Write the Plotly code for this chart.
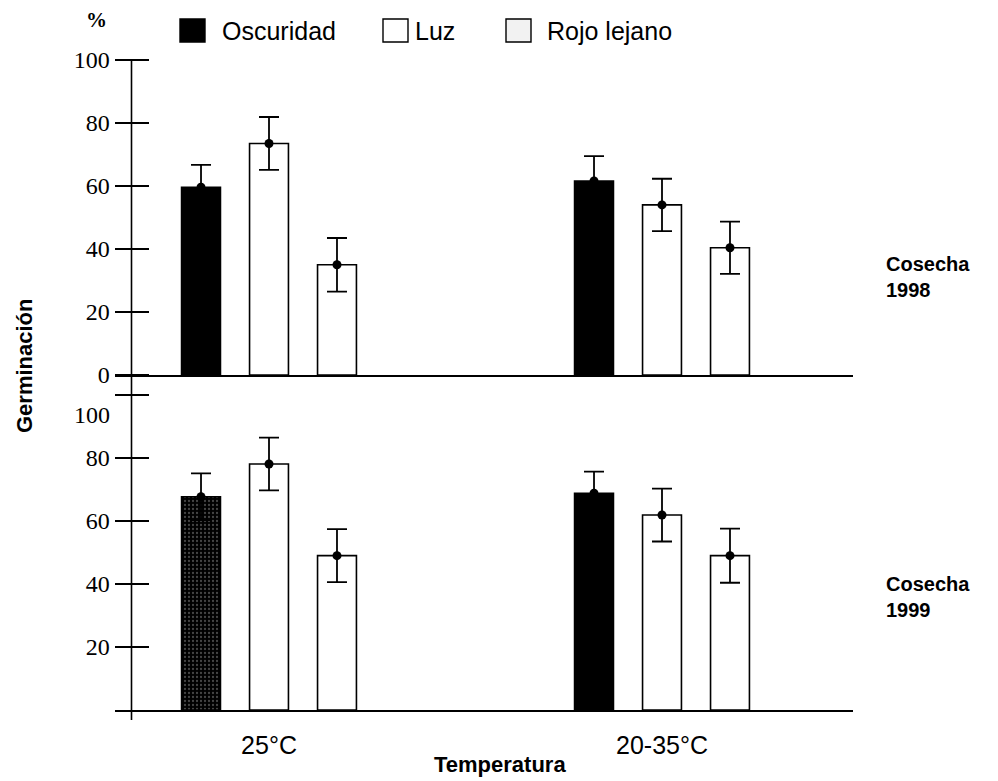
import plotly.graph_objects as go

# ---------------- data ----------------
categories = ["25°C", "20-35°C"]
series_names = ["Oscuridad", "Luz", "Rojo lejano"]

osc_1998 = [59.6, 61.6]
luz_1998 = [73.5, 54.0]
rojo_1998 = [35.0, 40.4]
osc_1998_err = [7.1, 7.9]
luz_1998_err = [8.4, 8.3]
rojo_1998_err = [8.5, 8.3]

osc_1999 = [67.7, 68.8]
luz_1999 = [78.1, 61.9]
rojo_1999 = [49.0, 49.0]
osc_1999_err = [7.4, 6.9]
luz_1999_err = [8.4, 8.4]
rojo_1999_err = [8.4, 8.6]

y_ticks_top = [0, 20, 40, 60, 80, 100]
y_ticks_bottom = [20, 40, 60, 80, 100]
y_ticktext_bottom = ["20", "40", "60", "80", ""]

# ---------------- layout helpers ----------------
W, H = 998, 781
def px(x):
    return x / W
def py(y):
    return 1 - y / H

slot = 0.173      # distance between bar centres (category units)
bar_w = 0.099     # bar width (category units)
offsets = [-slot, 0.0, slot]

fills = ["#000000", "#ffffff", "#ffffff"]

fig = go.Figure()

panels = [
    ("x", "y", [osc_1998, luz_1998, rojo_1998], [osc_1998_err, luz_1998_err, rojo_1998_err]),
    ("x2", "y2", [osc_1999, luz_1999, rojo_1999], [osc_1999_err, luz_1999_err, rojo_1999_err]),
]

for pi, (xa, ya, vals, errs) in enumerate(panels):
    for si, name in enumerate(series_names):
        xs = [ci + offsets[si] for ci in range(len(categories))]
        marker = dict(color=fills[si], line=dict(color="black", width=1.6))
        if si == 0 and pi == 1:
            marker["pattern"] = dict(shape=[".", ""], fgcolor="#8a8a8a", bgcolor="#000000",
                                     size=4, solidity=0.25)
        fig.add_trace(go.Bar(
            x=xs, y=vals[si], width=bar_w, name=name, marker=marker,
            xaxis=xa, yaxis=ya, showlegend=False, hoverinfo="skip"))
        fig.add_trace(go.Scatter(
            x=xs, y=vals[si], mode="markers",
            marker=dict(color="black", size=9),
            error_y=dict(type="data", array=errs[si], visible=True,
                         color="black", thickness=1.8, width=10),
            xaxis=xa, yaxis=ya, showlegend=False, hoverinfo="skip"))

x_dom = [px(115), px(853)]
x_rng = [(115 - 269) / 393, (853 - 269) / 393]

tick_font = dict(family="Liberation Serif", size=24, color="black")

fig.update_layout(
    width=W, height=H,
    margin=dict(l=0, r=0, t=0, b=0, autoexpand=False),
    paper_bgcolor="white", plot_bgcolor="rgba(0,0,0,0)",
    barmode="overlay",
    xaxis=dict(domain=x_dom, range=x_rng, anchor="y", showline=True, linecolor="black",
               linewidth=1.6, showticklabels=False, ticks="", showgrid=False, zeroline=False,
               automargin=False),
    xaxis2=dict(domain=x_dom, range=x_rng, anchor="y2", showline=True, linecolor="black",
                linewidth=1.6, tickvals=list(range(len(categories))), ticktext=categories,
                ticks="", showgrid=False, zeroline=False, ticklabelstandoff=12, automargin=False,
                tickfont=dict(family="Liberation Sans", size=25, color="black")),
    yaxis=dict(domain=[py(375), py(60)], range=[0, 100], anchor="free", position=px(148.5),
               tickvals=y_ticks_top, ticks="outside", ticklen=34, tickwidth=1.6, tickcolor="black",
               showline=False, showgrid=False, zeroline=False, tickfont=tick_font, automargin=False),
    yaxis2=dict(domain=[py(710), py(395)], range=[0, 100], anchor="free", position=px(148.5),
                tickvals=y_ticks_bottom, ticktext=y_ticktext_bottom, ticks="outside", ticklen=34,
                tickwidth=1.6, tickcolor="black", showline=False, showgrid=False, zeroline=False,
                tickfont=tick_font, automargin=False),
)

# label of the bottom panel's 100 tick sits slightly below the tick in the original
fig.add_annotation(x=px(112), y=py(415), xref="paper", yref="paper", text="100",
                   showarrow=False, xanchor="right", yanchor="middle", font=tick_font)

# continuous vertical axis line through both panels
fig.add_shape(type="line", xref="paper", yref="paper",
              x0=px(131.5), x1=px(131.5), y0=py(60), y1=py(720),
              line=dict(color="black", width=1.6))

# legend (manual)
legend_items = [
    (180, 205, "#000000", 220, "Oscuridad"),
    (383, 408, "#ffffff", 413, "Luz"),
    (506, 531, "#f2f2f2", 545, "Rojo lejano"),
]
for x0, x1, col, tx, label in legend_items:
    fig.add_shape(type="rect", xref="paper", yref="paper",
                  x0=px(x0), x1=px(x1), y0=py(42), y1=py(19),
                  fillcolor=col, line=dict(color="black", width=1.4))
    fig.add_annotation(x=px(tx), y=py(31), xref="paper", yref="paper",
                       text=label, showarrow=False, xanchor="left", yanchor="middle",
                       font=dict(family="Liberation Sans", size=25, color="black"))

fig.add_annotation(x=px(96), y=py(20), xref="paper", yref="paper", text="<b>%</b>",
                   showarrow=False, xanchor="center", yanchor="middle",
                   font=dict(family="Liberation Serif", size=21, color="black"))

for yc, yr in [(277, "1998"), (597, "1999")]:
    fig.add_annotation(x=px(884), y=py(yc), xref="paper", yref="paper",
                       text=f"<b>Cosecha<br>{yr}</b>", showarrow=False,
                       xanchor="left", yanchor="middle", align="left",
                       font=dict(family="Liberation Sans", size=20, color="black"))

fig.add_annotation(x=px(500), y=py(764), xref="paper", yref="paper", text="<b>Temperatura</b>",
                   showarrow=False, xanchor="center", yanchor="middle",
                   font=dict(family="Liberation Sans", size=22, color="black"))

fig.add_annotation(x=px(24), y=py(366), xref="paper", yref="paper", text="<b>Germinación</b>",
                   showarrow=False, xanchor="center", yanchor="middle", textangle=-90,
                   font=dict(family="Liberation Sans", size=22, color="black"))

fig.write_html("out.html")
